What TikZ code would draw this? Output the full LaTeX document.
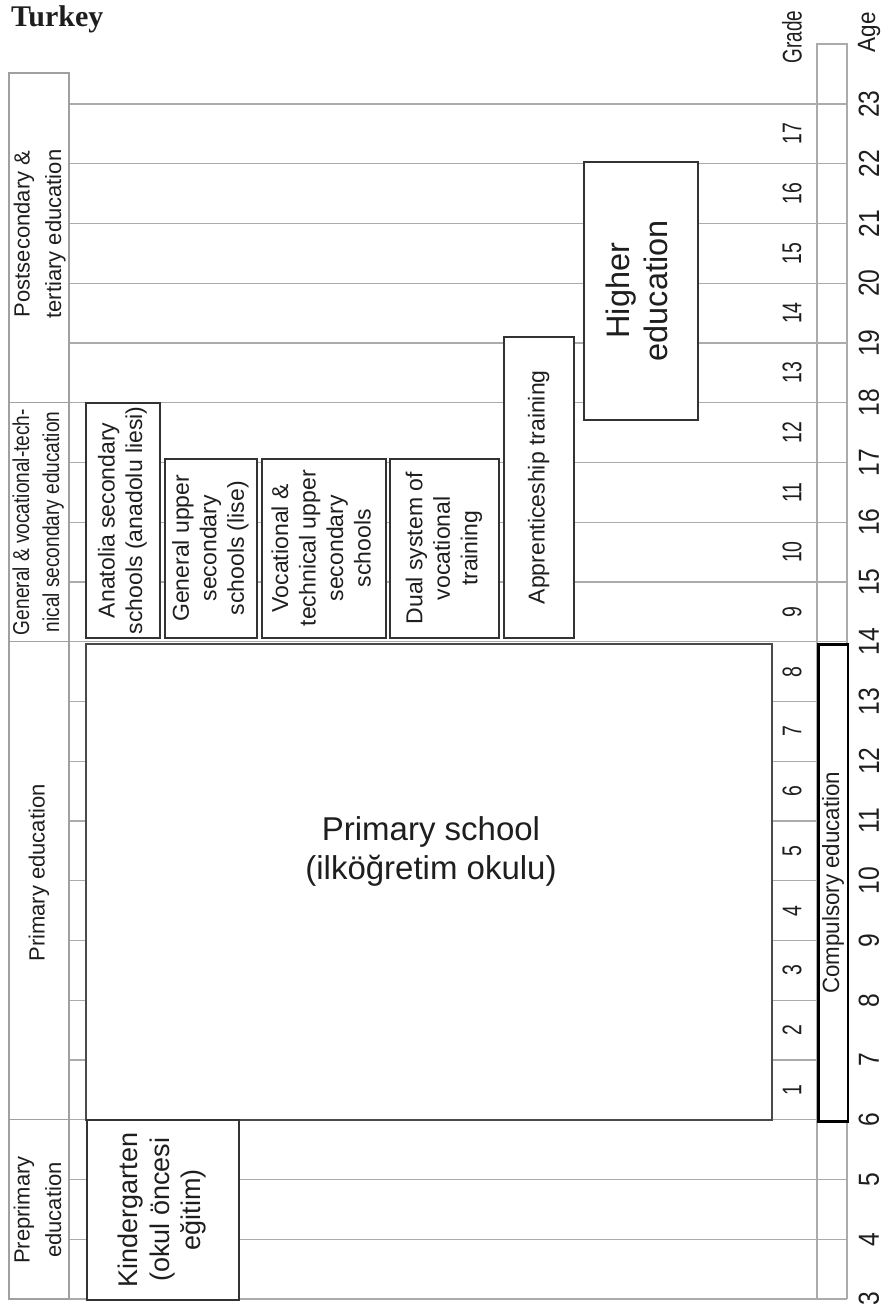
\documentclass[tikz,border=0pt]{standalone}
\usepackage{fontspec}
\usepackage{graphicx}
\setmainfont{Liberation Sans}
\newfontfamily\titlefont{Liberation Serif}
\definecolor{gridgray}{HTML}{ABABAB}
\definecolor{boxgray}{HTML}{333333}
\definecolor{primgray}{HTML}{4A4A4A}
\definecolor{framegray}{HTML}{A0A0A0}
\definecolor{inkgray}{HTML}{1E1E1E}
% stacked, centred lines of text
\newcommand\txtstack[1]{\begin{tabular}{@{}c@{}}#1\end{tabular}}
% text turned to read from bottom to top
\newcommand\uprot[1]{\rotatebox{90}{#1}}
% horizontally condensed text
\newcommand\narrowed[2]{\scalebox{#1}[1]{#2}}

\begin{document}
\begin{tikzpicture}[x=1pt,y=-1pt,
  declare function={ay(\a)=1299-59.75*(\a-3);},
  gridline/.style={draw=gridgray,line width=1.1pt},
  colframe/.style={draw=framegray,line width=1.1pt},
  school/.style={draw=boxgray,line width=1.5pt,fill=white,inner sep=0pt,
    anchor=north west,text=inkgray},
  sized/.style 2 args={minimum width=#1pt,minimum height=#2pt},
  boxfont/.style={font=\fontsize{23}{27.5}\selectfont},
  bigfont/.style={font=\fontsize{32.5}{38}\selectfont},
  leftlabel/.style={inner sep=0pt,text=inkgray,font=\fontsize{22}{31.5}\selectfont},
  gradenum/.style={inner sep=0pt,rotate=90,text=inkgray,font=\fontsize{27}{27}\selectfont},
  agenum/.style={inner sep=0pt,rotate=90,text=inkgray,font=\fontsize{29}{29}\selectfont}
]
\useasboundingbox (0,0) rectangle (885,1306);

% year lines across the chart
\foreach \a in {3,...,23}
  \draw[gridline] (69,{ay(\a)}) -- (847,{ay(\a)});
% age column
\draw[gridline] (817,1299) -- (817,44) -- (847,44) -- (847,1299);

% left column with the levels of education
\draw[colframe] (9,73) rectangle (69,1299);
\foreach \a in {18,14,6}
  \draw[colframe] (9,{ay(\a)}) -- (69,{ay(\a)});

\node[leftlabel] (lpost) at (39,234)
  {\uprot{\txtstack{Postsecondary \&\\tertiary education}}};
\node[leftlabel,font=\fontsize{23}{30}\selectfont] (lsec) at (38,522)
  {\uprot{\narrowed{0.83}{\txtstack{General \& vocational-tech-\\nical secondary education}}}};
\node[leftlabel] (lprim) at (39,873)
  {\uprot{Primary education}};
\node[leftlabel] (lpre) at (39,1210)
  {\uprot{\txtstack{Preprimary\\education}}};

% schools
\node[school,boxfont,sized={74}{235}] (anat) at (85,402)
  {\uprot{\txtstack{Anatolia secondary\\schools (anadolu liesi)}}};
\node[school,boxfont,sized={92}{179}] (genup) at (164,458)
  {\uprot{\txtstack{General upper\\secondary\\schools (lise)}}};
\node[school,boxfont,sized={124}{179}] (voc) at (261,458)
  {\uprot{\txtstack{Vocational \&\\technical upper\\secondary\\schools}}};
\node[school,boxfont,sized={109}{179}] (dual) at (389,458)
  {\uprot{\txtstack{Dual system of\\vocational\\training}}};
\node[school,boxfont,sized={70}{301}] (appr) at (503,336)
  {\uprot{Apprenticeship training}};
\node[school,bigfont,sized={114}{258}] (higher) at (583,161)
  {\uprot{\txtstack{Higher\\education}}};
\node[school,draw=primgray,line width=2.4pt,sized={686}{476}] (prim) at (85,643) {};
\node[inner sep=0pt,text=inkgray,font=\fontsize{33}{39}\selectfont] (primtext) at (431,852)
  {\txtstack{Primary school\\(ilköğretim okulu)}};
\node[school,font=\fontsize{27}{31.5}\selectfont,sized={152}{180}] (kind) at (86,1119)
  {\uprot{\txtstack{Kindergarten\\(okul öncesi\\eğitim)}}};
\node[school,draw=black,line width=2.6pt,font=\fontsize{23.5}{23.5}\selectfont,
  sized={29.5}{477}] (comp) at (817,643)
  {\uprot{\narrowed{0.95}{Compulsory education}}};

% grade and age scales
\node[gradenum] (gradehead) at (792,37) {\narrowed{0.7}{Grade}};
\node[agenum,font=\fontsize{25}{25}\selectfont] (agehead) at (869,32) {\narrowed{0.9}{Age}};
\foreach \g in {1,...,17}
  \node[gradenum] (g\g) at (792,{ay(\g+5.5)}) {\narrowed{0.72}{\g}};
\foreach \a in {3,...,23}
  \node[agenum] (a\a) at (869,{ay(\a)}) {\narrowed{0.85}{\a}};

% title
\node[anchor=base west,inner sep=0pt,text=inkgray,
  font=\titlefont\bfseries\fontsize{30}{30}\selectfont] (title) at (11,27) {Turkey};
\end{tikzpicture}
\end{document}
